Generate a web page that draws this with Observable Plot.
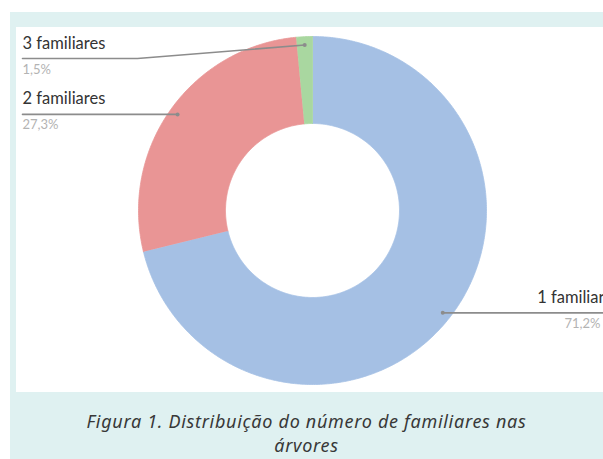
<!DOCTYPE html>
<html>
<head>
<meta charset="utf-8">
<script src="https://cdn.jsdelivr.net/npm/d3@7"></script>
<script src="https://cdn.jsdelivr.net/npm/@observablehq/plot@0.6"></script>
<style>
  html, body { margin: 0; padding: 0; background: #ffffff; }
  body { width: 603px; height: 459px; position: relative; overflow: hidden; }
  #frame { position: absolute; left: 10px; top: 12px; width: 593px; height: 447px; background: #dff1f1; }
  #panel { position: absolute; left: 16px; top: 27px; width: 587px; height: 365px; background: #ffffff; }
  #caption { position: absolute; left: 10px; top: 409px; width: 593px; text-align: center;
    font-family: "Noto Sans", "Open Sans", sans-serif; font-style: italic; font-size: 18px;
    letter-spacing: 0.7px; line-height: 24px; color: #383838; }
</style>
</head>
<body>
<div id="frame"></div>
<div id="panel"></div>
<div id="caption">Figura 1. Distribuição do número de familiares nas<br>árvores</div>
<script>
// ---- data ----
const categories = ["1 familiar", "2 familiares", "3 familiares"];
const values = [71.2, 27.3, 1.5];
const valueLabels = ["71,2%", "27,3%", "1,5%"];
const colors = ["#a5c0e4", "#e99595", "#a9d7a0"];

// ---- layout (pixels inside the white panel) ----
const W = 587, H = 365;
const CX = 296, CY = 183, R = 174, INNER = 0.5;
const ux = px => (px - CX) / R;   // panel px -> unit x
const uy = py => (CY - py) / R;   // panel py -> unit y

// pie angles (clockwise from top)
const pie = d3.pie().sort(null).value(d => d.value)(
  categories.map((c, i) => ({category: c, value: values[i], color: colors[i], label: valueLabels[i]}))
);

// slice outlines in unit coordinates
const outline = [];
pie.forEach(p => {
  const n = Math.max(8, Math.ceil((p.endAngle - p.startAngle) / 0.01));
  const pts = [];
  for (let k = 0; k <= n; k++) { const a = p.startAngle + (p.endAngle - p.startAngle) * k / n; pts.push([Math.sin(a), Math.cos(a)]); }
  for (let k = n; k >= 0; k--) { const a = p.startAngle + (p.endAngle - p.startAngle) * k / n; pts.push([INNER * Math.sin(a), INNER * Math.cos(a)]); }
  pts.forEach(([x, y]) => outline.push({category: p.data.category, color: p.data.color, x, y}));
});

// leader lines
const side = {"1 familiar": "right", "2 familiares": "left", "3 familiares": "left"};
const elbow = {"3 familiares": {dx: 121, dy: 31}};
const leaders = [], dots = [], names = [], pcts = [];
pie.forEach(p => {
  const c = p.data.category;
  const a = (p.startAngle + p.endAngle) / 2;
  const rr = 0.952;
  const dx = rr * Math.sin(a), dy = rr * Math.cos(a);
  dots.push({x: dx, y: dy});
  let lineY;
  if (elbow[c]) {
    lineY = elbow[c].dy;
    leaders.push({k: c, x: dx, y: dy}, {k: c, x: ux(elbow[c].dx), y: uy(lineY)}, {k: c, x: ux(6), y: uy(lineY)});
  } else {
    lineY = CY - dy * R;
    const endX = side[c] === "left" ? ux(6) : ux(W + 2);
    leaders.push({k: c, x: dx, y: dy}, {k: c, x: endX, y: dy});
  }
  const tx = side[c] === "left" ? ux(6) : ux(W + 1);
  const anchor = side[c] === "left" ? "start" : "end";
  names.push({x: tx, y: uy(lineY - 10), text: c, anchor});
  pcts.push({x: side[c] === "left" ? ux(6) : ux(W - 3), y: uy(lineY + 15), text: p.data.label, anchor});
});

const font = "Lato, 'Open Sans', sans-serif";
const chart = Plot.plot({
  width: W,
  height: H,
  marginLeft: CX - R,
  marginRight: W - (CX + R),
  marginTop: CY - R,
  marginBottom: H - (CY + R),
  x: {domain: [-1, 1], axis: null},
  y: {domain: [-1, 1], axis: null},
  style: {background: "transparent", overflow: "visible"},
  marks: [
    Plot.line(outline, {x: "x", y: "y", z: "category", fill: "color", stroke: "color", strokeWidth: 0.8, curve: "linear"}),
    Plot.line(leaders, {x: "x", y: "y", z: "k", stroke: "#8c8c8c", strokeWidth: 1.6}),
    Plot.dot(dots, {x: "x", y: "y", r: 2, fill: "#8c8c8c"}),
    Plot.text(names.filter(d => d.anchor === "start"), {x: "x", y: "y", text: "text", textAnchor: "start", lineAnchor: "bottom",
      fontSize: 16.5, fill: "#333333", fontFamily: font}),
    Plot.text(names.filter(d => d.anchor === "end"), {x: "x", y: "y", text: "text", textAnchor: "end", lineAnchor: "bottom",
      fontSize: 16.5, fill: "#333333", fontFamily: font}),
    Plot.text(pcts.filter(d => d.anchor === "start"), {x: "x", y: "y", text: "text", textAnchor: "start", lineAnchor: "bottom",
      fontSize: 13, fill: "#b3b3b3", fontFamily: font}),
    Plot.text(pcts.filter(d => d.anchor === "end"), {x: "x", y: "y", text: "text", textAnchor: "end", lineAnchor: "bottom",
      fontSize: 13, fill: "#b3b3b3", fontFamily: font})
  ]
});
document.getElementById("panel").appendChild(chart);
</script>
</body>
</html>
